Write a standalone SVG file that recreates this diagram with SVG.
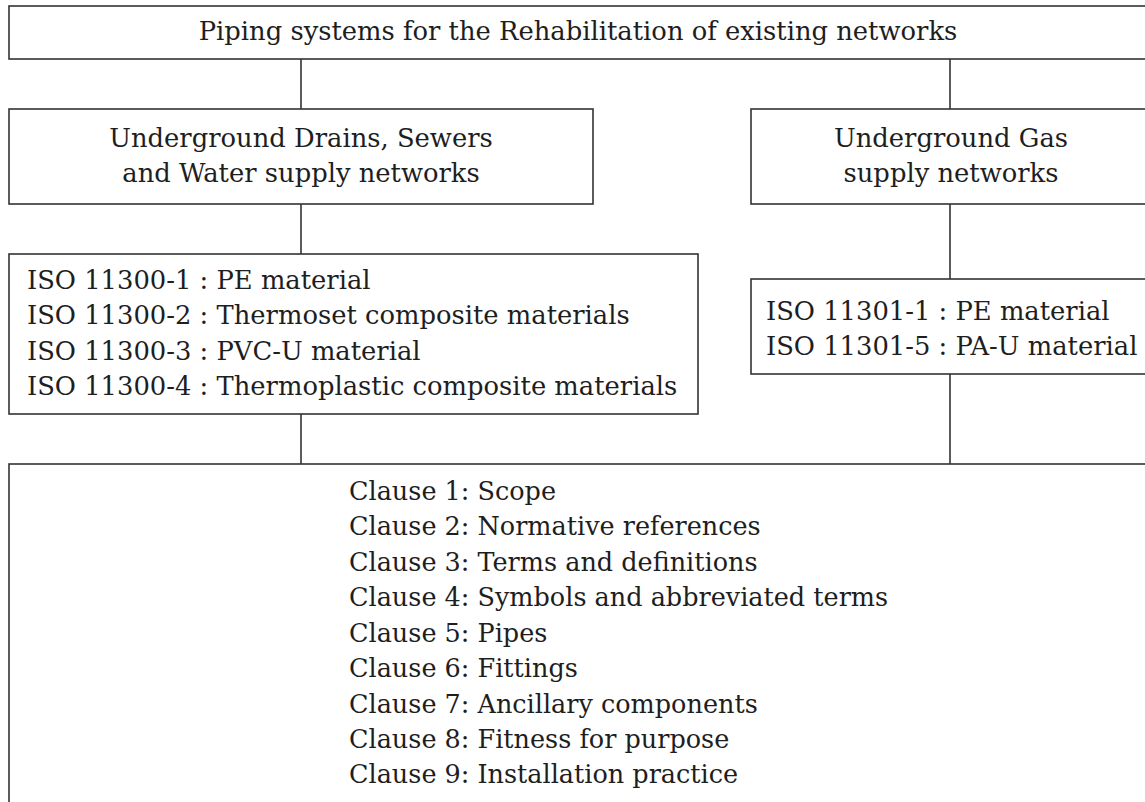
<svg xmlns="http://www.w3.org/2000/svg" width="1145" height="802" viewBox="0 0 1145 802">
<style>
.box{fill:#fff;stroke:#333;stroke-width:1.6}
.ln{stroke:#333;stroke-width:1.6;fill:none}
text{font-family:"DejaVu Serif","Liberation Serif",serif;font-size:25.8px;fill:#1e1e1e}
.c{text-anchor:middle}
.cl{font-size:25.5px}
</style>
<rect width="1145" height="802" fill="#fff"/>
<g id="connectors">
<line class="ln" x1="301" y1="59" x2="301" y2="109"/>
<line class="ln" x1="950" y1="59" x2="950" y2="109"/>
<line class="ln" x1="301" y1="204" x2="301" y2="254"/>
<line class="ln" x1="950" y1="204" x2="950" y2="279"/>
<line class="ln" x1="301" y1="414" x2="301" y2="464"/>
<line class="ln" x1="950" y1="374" x2="950" y2="464"/>
</g>
<g id="root">
<rect class="box" x="9" y="6" width="1150" height="53"/>
<text class="c" x="578" y="40">Piping systems for the Rehabilitation of existing networks</text>
</g>
<g id="water">
<rect class="box" x="9" y="109" width="584" height="95"/>
<text class="c" x="301" y="147">Underground Drains, Sewers</text>
<text class="c" x="301" y="182">and Water supply networks</text>
</g>
<g id="gas">
<rect class="box" x="751" y="109" width="410" height="95"/>
<text class="c" x="951" y="147">Underground Gas</text>
<text class="c" x="951" y="182">supply networks</text>
</g>
<g id="water-standards">
<rect class="box" x="9" y="254" width="689" height="160"/>
<text x="27" y="289">ISO 11300-1 : PE material</text>
<text x="27" y="324">ISO 11300-2 : Thermoset composite materials</text>
<text x="27" y="360">ISO 11300-3 : PVC-U material</text>
<text x="27" y="395">ISO 11300-4 : Thermoplastic composite materials</text>
</g>
<g id="gas-standards">
<rect class="box" x="751" y="279" width="410" height="95"/>
<text x="766" y="320">ISO 11301-1 : PE material</text>
<text x="766" y="355">ISO 11301-5 : PA-U material</text>
</g>
<g id="clauses">
<rect class="box" x="9" y="464" width="1150" height="360"/>
<text class="cl" x="349" y="500">Clause 1: Scope</text>
<text class="cl" x="349" y="535">Clause 2: Normative references</text>
<text class="cl" x="349" y="571">Clause 3: Terms and definitions</text>
<text class="cl" x="349" y="606">Clause 4: Symbols and abbreviated terms</text>
<text class="cl" x="349" y="642">Clause 5: Pipes</text>
<text class="cl" x="349" y="677">Clause 6: Fittings</text>
<text class="cl" x="349" y="713">Clause 7: Ancillary components</text>
<text class="cl" x="349" y="748">Clause 8: Fitness for purpose</text>
<text class="cl" x="349" y="783">Clause 9: Installation practice</text>
</g>
</svg>
